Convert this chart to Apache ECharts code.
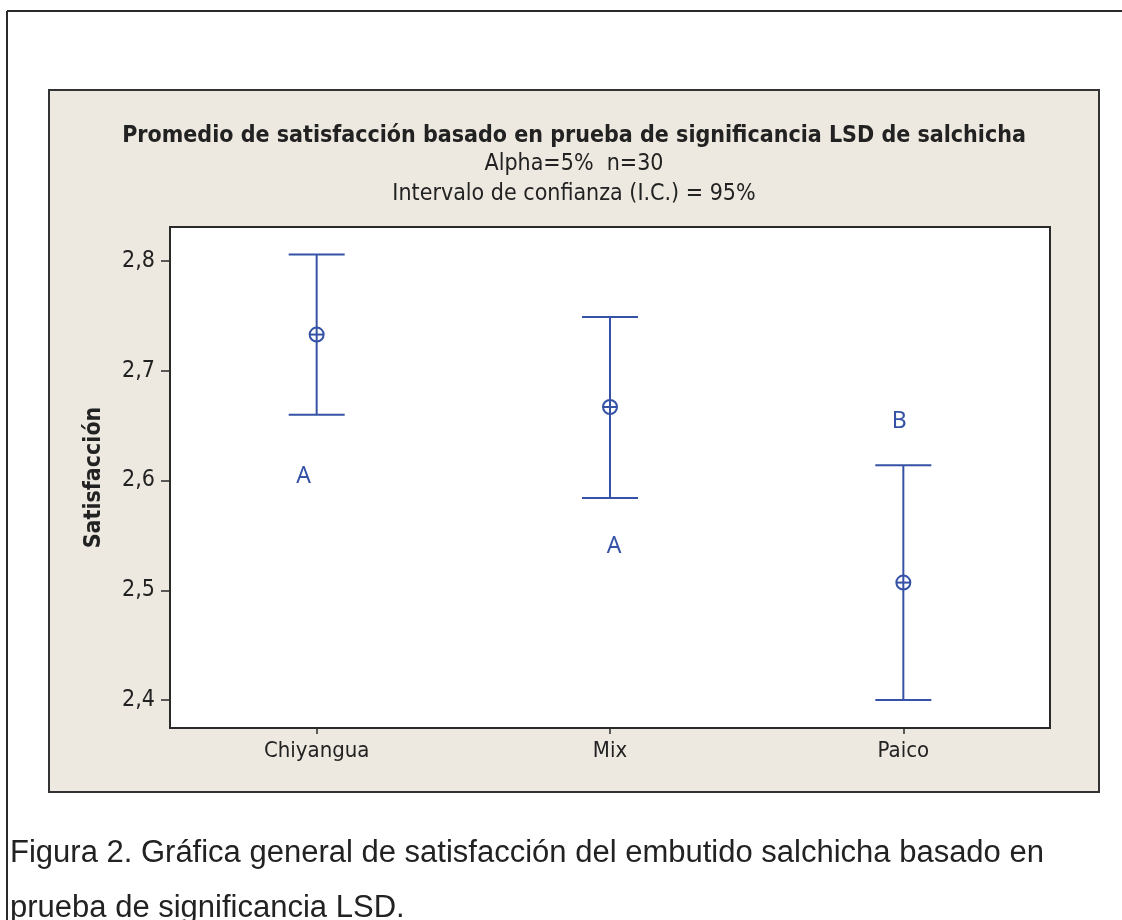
<!DOCTYPE html>
<html>
<head>
<meta charset="utf-8">
<script src="https://cdn.jsdelivr.net/npm/echarts@6/dist/echarts.min.js"></script>
<style>
html,body{margin:0;padding:0;background:#fff;}
#chart{width:1122px;height:920px;}
</style>
</head>
<body>
<div id="chart"></div>
<script>
const categories = ['Chiyangua', 'Mix', 'Paico'];
const means = [2.733, 2.667, 2.507];
const upper = [2.806, 2.749, 2.614];
const lower = [2.660, 2.584, 2.400];
const groupLetters = ['A', 'A', 'B'];
const letterY = [2.604, 2.540, 2.654];
const yTicks = [2.4, 2.5, 2.6, 2.7, 2.8];

const blue = '#3552a6';
const dark = '#2a2a2a';
const font = '"DejaVu Sans Condensed", "DejaVu Sans", sans-serif';
const capFont = '31px "Liberation Sans", Arial, sans-serif';

const chart = echarts.init(document.getElementById('chart'), null, {renderer: 'canvas'});

const letterOffsets = [[-13, 0], [4, 0], [-4, 0]];

const option = {
  backgroundColor: '#ffffff',
  animation: false,
  graphic: [
    {type: 'line', z: -20, shape: {x1: 7, y1: 11, x2: 1122, y2: 11}, style: {stroke: dark, lineWidth: 2}},
    {type: 'line', z: -20, shape: {x1: 7, y1: 11, x2: 7, y2: 920}, style: {stroke: dark, lineWidth: 2}},
    {type: 'rect', z: -10, shape: {x: 49, y: 90, width: 1050, height: 702}, style: {fill: '#ede9e0', stroke: '#333', lineWidth: 2}},
    {type: 'text', z: 10, x: 574, y: 136, style: {text: 'Promedio de satisfacción basado en prueba de significancia LSD de salchicha', font: 'bold 23px ' + font, fill: '#222', align: 'center', verticalAlign: 'middle'}},
    {type: 'text', z: 10, x: 574, y: 164, style: {text: 'Alpha=5%  n=30', font: '23px ' + font, fill: '#222', align: 'center', verticalAlign: 'middle'}},
    {type: 'text', z: 10, x: 574, y: 194, style: {text: 'Intervalo de confianza (I.C.) = 95%', font: '23px ' + font, fill: '#222', align: 'center', verticalAlign: 'middle'}},
    {type: 'text', z: 10, x: 10, y: 853, style: {text: 'Figura 2. Gráfica general de satisfacción del embutido salchicha basado en', font: capFont, fill: '#222', align: 'left', verticalAlign: 'middle'}},
    {type: 'text', z: 10, x: 10, y: 908, style: {text: 'prueba de significancia LSD.', font: capFont, fill: '#222', align: 'left', verticalAlign: 'middle'}}
  ],
  grid: {
    left: 170, right: 72, top: 227, bottom: 192,
    show: true, backgroundColor: '#ffffff', borderColor: dark, borderWidth: 2
  },
  xAxis: {
    type: 'category',
    data: categories,
    boundaryGap: true,
    axisLine: {show: true, lineStyle: {color: dark, width: 2}},
    axisTick: {show: true, alignWithLabel: true, length: 6, lineStyle: {color: dark, width: 1.5}},
    axisLabel: {color: '#222', fontSize: 22, fontFamily: font, margin: 12},
    splitLine: {show: false}
  },
  yAxis: {
    type: 'value',
    min: 2.3745,
    max: 2.831,
    name: 'Satisfacción',
    nameLocation: 'middle',
    nameRotate: 90,
    nameGap: 64,
    nameTextStyle: {color: '#222', fontSize: 23, fontWeight: 'bold', fontFamily: font},
    axisLine: {show: true, lineStyle: {color: dark, width: 2}},
    axisTick: {show: true, length: 9, customValues: yTicks, lineStyle: {color: dark, width: 1.5}},
    axisLabel: {color: '#222', fontSize: 23, fontFamily: font, margin: 15, customValues: yTicks,
      formatter: v => v.toFixed(1).replace('.', ',')},
    splitLine: {show: false}
  },
  series: [
    {
      type: 'custom',
      name: 'IC',
      data: categories.map((c, i) => [i, lower[i], upper[i], means[i]]),
      renderItem: function (params, api) {
        const x = api.value(0);
        const lo = api.coord([x, api.value(1)]);
        const hi = api.coord([x, api.value(2)]);
        const m = api.coord([x, api.value(3)]);
        const hw = 28;
        const r = 7;
        const st = {stroke: blue, lineWidth: 2, fill: null};
        return {
          type: 'group',
          children: [
            {type: 'line', shape: {x1: lo[0], y1: lo[1], x2: hi[0], y2: hi[1]}, style: st},
            {type: 'line', shape: {x1: hi[0] - hw, y1: hi[1], x2: hi[0] + hw, y2: hi[1]}, style: st},
            {type: 'line', shape: {x1: lo[0] - hw, y1: lo[1], x2: lo[0] + hw, y2: lo[1]}, style: st},
            {type: 'circle', shape: {cx: m[0], cy: m[1], r: r}, style: {stroke: blue, lineWidth: 2, fill: 'rgba(0,0,0,0)'}},
            {type: 'line', shape: {x1: m[0] - r, y1: m[1], x2: m[0] + r, y2: m[1]}, style: st}
          ]
        };
      }
    },
    {
      type: 'scatter',
      name: 'Grupos',
      symbolSize: 1,
      itemStyle: {opacity: 0},
      data: categories.map((c, i) => ({
        value: [i, letterY[i]],
        label: {offset: letterOffsets[i]}
      })),
      label: {
        show: true,
        position: 'inside',
        formatter: p => groupLetters[p.dataIndex],
        color: blue,
        opacity: 1,
        fontSize: 23,
        fontFamily: '"Noto Sans", "Open Sans", sans-serif'
      }
    }
  ]
};
chart.setOption(option);
</script>
</body>
</html>
